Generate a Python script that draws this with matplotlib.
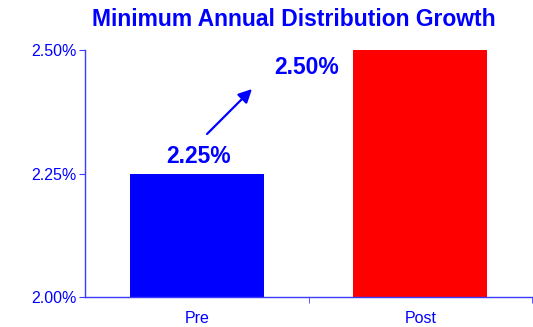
import matplotlib
matplotlib.use("Agg")
import matplotlib.pyplot as plt
from matplotlib.ticker import FuncFormatter

plt.rcParams['font.family'] = ['Liberation Sans', 'DejaVu Sans']

categories = ["Pre", "Post"]
values = [2.25, 2.50]
bar_colors = ["#0000ff", "#ff0000"]
y_ticks = [2.00, 2.25, 2.50]

blue = "#0000ff"
axis_blue = "#3c3cff"

fig = plt.figure(figsize=(5.33, 3.27), dpi=100)
ax = fig.add_axes([85 / 533, 1 - 297 / 327, 447 / 533, 247 / 327])

xs = list(range(len(categories)))
ax.bar(xs, values, width=0.6, color=bar_colors, zorder=2)

ax.set_xlim(-0.5, len(categories) - 0.5)
ax.set_ylim(2.00, 2.50)
ax.set_yticks(y_ticks)
ax.yaxis.set_major_formatter(FuncFormatter(lambda v, p: f"{v:.2f}%"))

ax.set_xticks(xs)
ax.set_xticklabels(categories)
ax.set_xticks([0.5, 1.5], minor=True)
ax.tick_params(axis='x', which='major', length=0, pad=10, labelsize=11.5, labelcolor=blue)
ax.tick_params(axis='x', which='minor', length=4, direction='out', color=axis_blue)
ax.tick_params(axis='y', length=4, direction='out', color=axis_blue, labelsize=11.5,
               labelcolor=blue, pad=2)

for side in ("top", "right"):
    ax.spines[side].set_visible(False)
for side in ("left", "bottom"):
    ax.spines[side].set_color(axis_blue)
    ax.spines[side].set_linewidth(1.0)

# value labels over the first bar and to the upper right of the arrow
ax.text(0.01, values[0] + 0.012, f"{values[0]:.2f}%", ha='center', va='bottom',
        fontsize=16.5, fontweight='bold', color=blue)
ax.text(0.49, 2.464, f"{values[1]:.2f}%", ha='center', va='center',
        fontsize=16.5, fontweight='bold', color=blue)

ax.annotate("", xy=(0.247, 2.421), xytext=(0.046, 2.330),
            arrowprops=dict(arrowstyle="-|>", color=blue, lw=1.6,
                            mutation_scale=20, shrinkA=0, shrinkB=0))

fig.text(294 / 533, 1 - 20 / 327, "Minimum Annual Distribution Growth",
         ha='center', va='center', fontsize=16.5, fontweight='bold', color=blue)

fig.savefig("out.png", dpi=100)
